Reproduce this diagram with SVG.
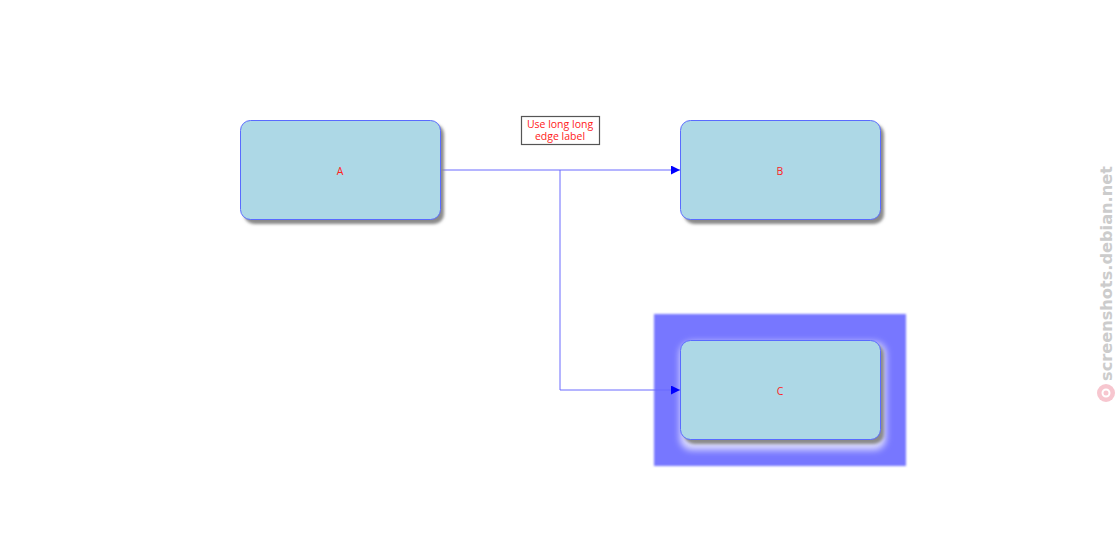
<svg xmlns="http://www.w3.org/2000/svg" width="1120" height="560" viewBox="0 0 1120 560">
<style>
.node{fill:#add8e6;stroke:#5a6bff;stroke-width:1}
.shadow{fill:#8a8a8a;filter:url(#blur2)}
.lbl{font-family:"Open Sans","Liberation Sans",sans-serif;font-size:10.5px;fill:#ff2020;text-anchor:middle}
.edge{fill:none;stroke:#6a6aff;stroke-width:1}
</style>
<defs>
<filter id="blur2" x="-10%" y="-10%" width="120%" height="120%"><feGaussianBlur stdDeviation="1.5"/></filter>
<filter id="blur4" x="-20%" y="-20%" width="140%" height="140%"><feGaussianBlur stdDeviation="3.5"/></filter>
<filter id="blur1" x="-10%" y="-10%" width="120%" height="120%"><feGaussianBlur stdDeviation="1"/></filter>
<marker id="arr" viewBox="0 0 10 10" refX="10" refY="5" markerWidth="9" markerHeight="9" markerUnits="userSpaceOnUse" orient="auto"><path d="M0,0 L10,5 L0,10 z" fill="#0000ff"/></marker>
</defs>
<rect width="1120" height="560" fill="#ffffff"/>
<g id="highlight">
<rect x="654" y="314" width="252" height="152" fill="#7777ff" filter="url(#blur1)"/>
<rect x="680" y="342" width="206" height="108" rx="12" fill="#ffffff" opacity="0.75" filter="url(#blur4)"/>
</g>
<g id="connectors">
<path class="edge" d="M440,170 H680" marker-end="url(#arr)"/>
<path class="edge" d="M560,170 V390 H680" marker-end="url(#arr)"/>
<g id="edge-label">
<rect x="521.5" y="116.5" width="78" height="28" fill="#ffffff" stroke="#555555" stroke-width="1.2"/>
<text class="lbl" x="560" y="127.5">Use long long</text>
<text class="lbl" x="560" y="140">edge label</text>
</g>
</g>
<g id="node-A">
<rect class="shadow" x="244" y="124" width="200" height="100" rx="10"/>
<rect class="node" x="240.5" y="120.5" width="200" height="99" rx="10"/>
<text class="lbl" x="340" y="175">A</text>
</g>
<g id="node-B">
<rect class="shadow" x="684" y="124" width="200" height="100" rx="10"/>
<rect class="node" x="680.5" y="120.5" width="200" height="99" rx="10"/>
<text class="lbl" x="780" y="175">B</text>
</g>
<g id="node-C">
<rect class="shadow" x="684" y="344" width="200" height="100" rx="10"/>
<rect class="node" x="680.5" y="340.5" width="200" height="99" rx="10"/>
<text class="lbl" x="780" y="395">C</text>
</g>
<g id="watermark">
<text x="1112" y="381" transform="rotate(-90 1112 381)" textLength="215" lengthAdjust="spacingAndGlyphs" font-family="'DejaVu Sans','Liberation Sans',sans-serif" font-weight="bold" font-size="15" fill="#cccccc">screenshots.debian.net</text>
<circle cx="1106" cy="393" r="9" fill="#f7c6cf"/>
<circle cx="1106" cy="393" r="3.5" fill="none" stroke="#ffffff" stroke-width="2"/>
</g>
</svg>
